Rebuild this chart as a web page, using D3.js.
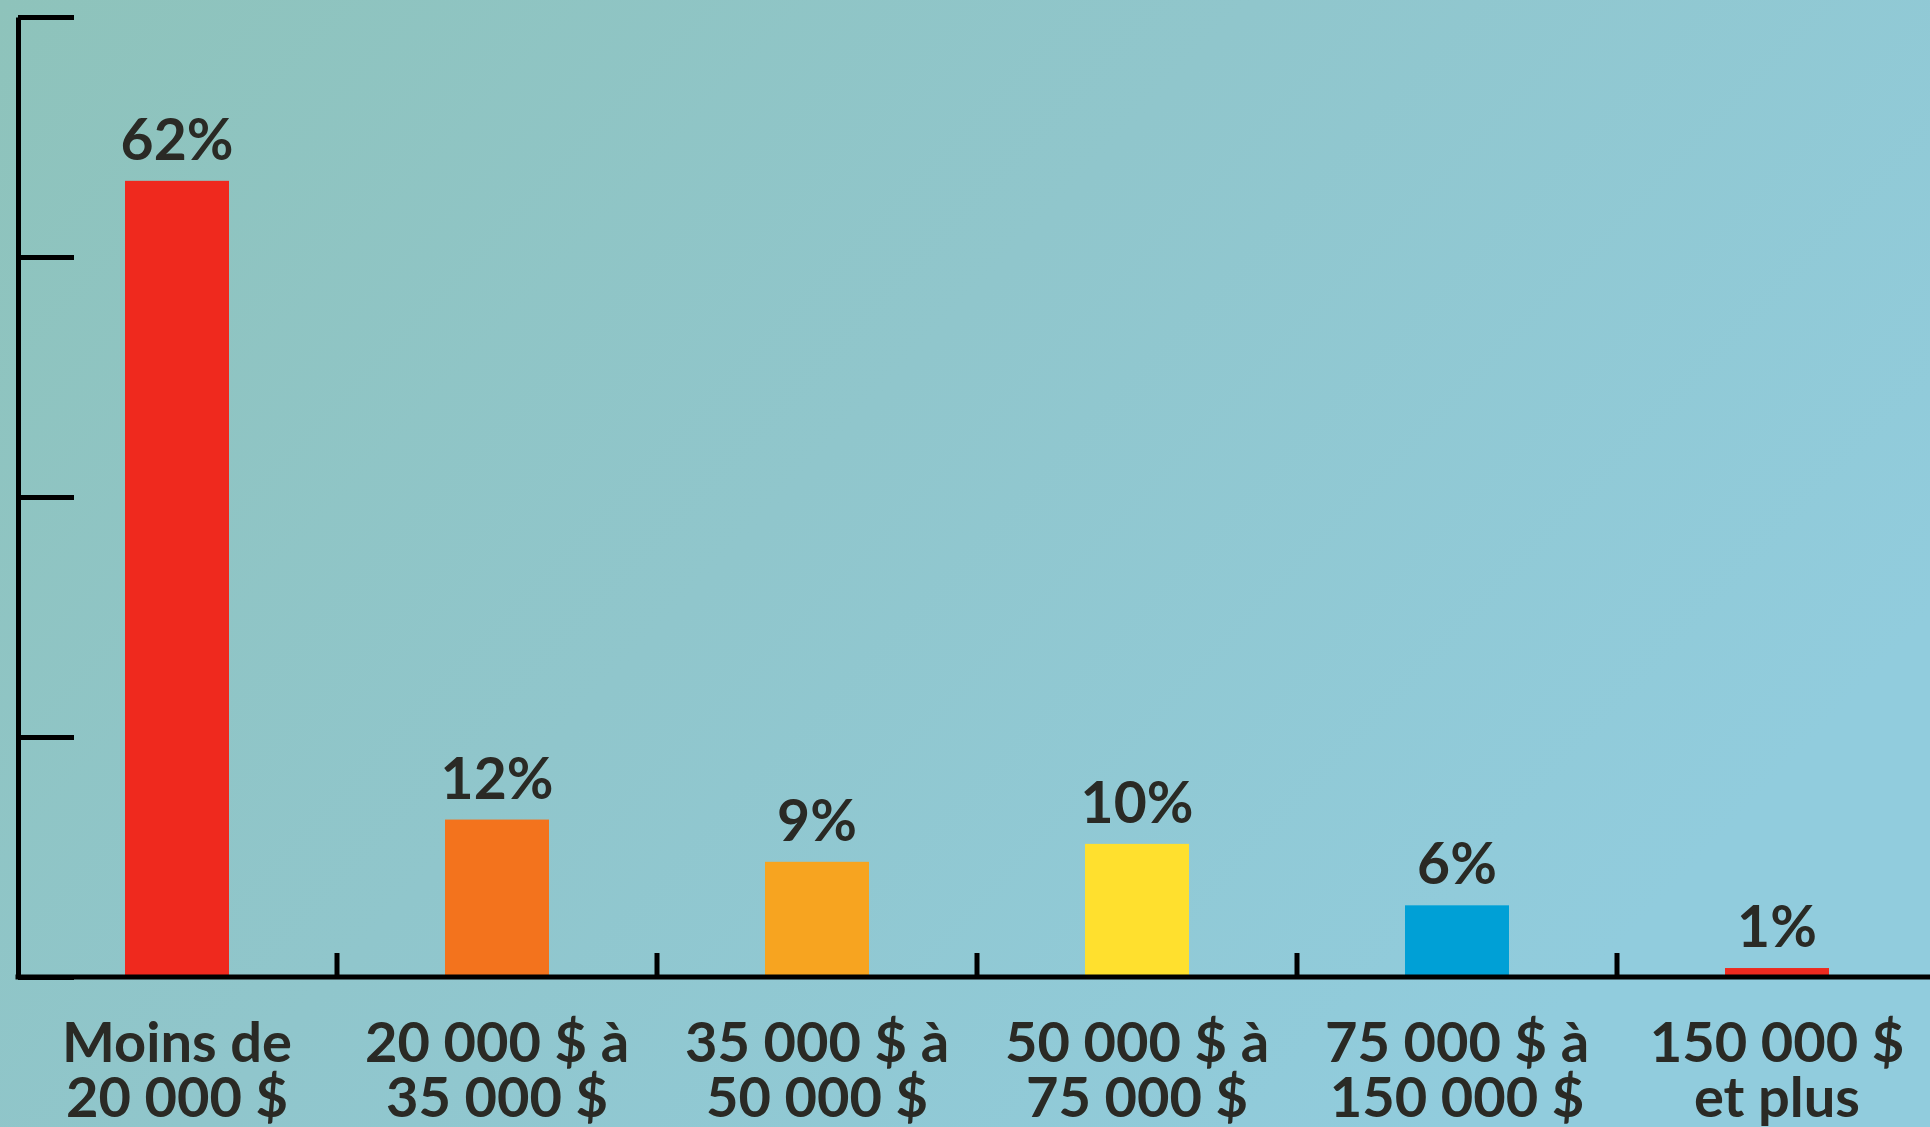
<!DOCTYPE html>
<html>
<head>
<meta charset="utf-8">
<script src="https://cdn.jsdelivr.net/npm/d3@7"></script>
<style>
  html, body { margin: 0; padding: 0; overflow: hidden; }
  svg { display: block; }
</style>
</head>
<body>
<svg id="main-svg"></svg>
<script>
// income brackets (one per bar) and their two label lines
const categories = ["lt20", "20to35", "35to50", "50to75", "75to150", "150plus"];
const categoryLines = [
    ["Moins de", "20 000 $"],
    ["20 000 $ à", "35 000 $"],
    ["35 000 $ à", "50 000 $"],
    ["50 000 $ à", "75 000 $"],
    ["75 000 $ à", "150 000 $"],
    ["150 000 $", "et plus"]
];
// share of respondents, in percent (bar heights)
const values = [62.2, 12.3, 9.0, 10.4, 5.6, 0.7];
const valueLabels = ["62%", "12%", "9%", "10%", "6%", "1%"];
const barColors = ["#ef291e", "#f3731d", "#f7a420", "#ffe02e", "#00a0d6", "#ee2a1f"];
// y axis: four evenly spaced gridline ticks up to the top of the axis
const yMax = 75;
const yTicks = [0, 18.75, 37.5, 56.25, 75];

const width = 1930;
const height = 1127;

const svg = d3.select("#main-svg")
    .attr("width", width)
    .attr("height", height);

// background gradient, teal-green on the left to light blue on the right
const defs = svg.append("defs");
const grad = defs.append("linearGradient")
    .attr("id", "bg")
    .attr("x1", "0").attr("y1", "0")
    .attr("x2", "1").attr("y2", "0.55");
grad.append("stop").attr("offset", "0%").attr("stop-color", "#8ec3bb");
grad.append("stop").attr("offset", "50%").attr("stop-color", "#90c6cc");
grad.append("stop").attr("offset", "100%").attr("stop-color", "#91ccdd");

svg.append("rect")
    .attr("width", width)
    .attr("height", height)
    .attr("fill", "url(#bg)");

const x = d3.scaleBand()
    .domain(categories)
    .range([17, 17 + 6 * 320])
    .paddingInner(0.675)
    .paddingOuter(0.3375);

const y = d3.scaleLinear()
    .domain([0, yMax])
    .range([977, 17]);

const textColor = "#2a2a25";

// bars
svg.append("g")
    .selectAll("rect")
    .data(values)
    .join("rect")
    .attr("x", (d, i) => x(categories[i]))
    .attr("y", d => y(d))
    .attr("width", x.bandwidth())
    .attr("height", d => y(0) - y(d))
    .attr("fill", (d, i) => barColors[i]);

// value labels above bars
svg.append("g")
    .selectAll("text")
    .data(values)
    .join("text")
    .attr("x", (d, i) => x(categories[i]) + x.bandwidth() / 2)
    .attr("y", d => y(d) - 21)
    .attr("text-anchor", "middle")
    .attr("fill", textColor)
    .style("font-family", "Lato, 'Open Sans', sans-serif")
    .style("font-weight", "700")
    .style("font-size", "57px")
    .text((d, i) => valueLabels[i]);

// y axis with ticks pointing right
const yAxis = d3.axisRight(y)
    .tickValues(yTicks)
    .tickSize(56)
    .tickSizeOuter(0)
    .tickFormat("");

const yg = svg.append("g")
    .attr("transform", "translate(18,0)")
    .call(yAxis);
yg.select(".domain").attr("stroke", "#000").attr("stroke-width", 5);
yg.selectAll(".tick line").attr("stroke", "#000").attr("stroke-width", 5);

// x axis baseline, runs off the right edge
svg.append("line")
    .attr("x1", 15.5)
    .attr("x2", width + 10)
    .attr("y1", y(0))
    .attr("y2", y(0))
    .attr("stroke", "#000")
    .attr("stroke-width", 5);

// small upward ticks on the boundaries between brackets
const boundaries = categories.slice(1)
    .map(c => x(c) - x.step() * x.paddingInner() / 2);
svg.append("g")
    .selectAll("line")
    .data(boundaries)
    .join("line")
    .attr("x1", d => d)
    .attr("x2", d => d)
    .attr("y1", y(0))
    .attr("y2", y(0) - 24)
    .attr("stroke", "#000")
    .attr("stroke-width", 5);

// category labels, two lines each
const catLabels = svg.append("g")
    .selectAll("text")
    .data(categoryLines)
    .join("text")
    .attr("x", (d, i) => x(categories[i]) + x.bandwidth() / 2)
    .attr("y", 1062)
    .attr("text-anchor", "middle")
    .attr("fill", textColor)
    .style("font-family", "Lato, 'Open Sans', sans-serif")
    .style("font-weight", "700")
    .style("font-size", "56px");

catLabels.selectAll("tspan")
    .data(d => d)
    .join("tspan")
    .attr("x", function() { return d3.select(this.parentNode).attr("x"); })
    .attr("dy", (d, i) => i === 0 ? 0 : 55)
    .text(d => d);
</script>
</body>
</html>
